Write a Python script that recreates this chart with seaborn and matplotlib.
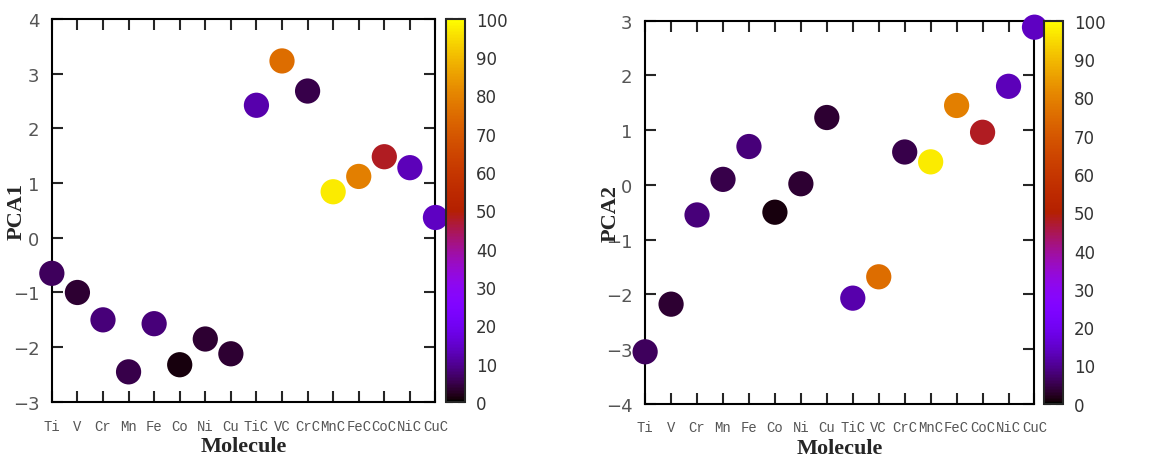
import numpy as np
import pandas as pd
import matplotlib
matplotlib.use('Agg')
import matplotlib.pyplot as plt
import seaborn as sns

# ---------------------- Data ----------------------
molecules = ['Ti', 'V', 'Cr', 'Mn', 'Fe', 'Co', 'Ni', 'Cu',
             'TiC', 'VC', 'CrC', 'MnC', 'FeC', 'CoC', 'NiC', 'CuC']
pca1 = [-0.65, -1.0, -1.5, -2.45, -1.57, -2.32, -1.85, -2.12,
        2.42, 3.23, 2.68, 0.84, 1.12, 1.48, 1.28, 0.37]
pca2 = [-3.05, -2.18, -0.55, 0.10, 0.70, -0.50, 0.02, 1.23,
        -2.07, -1.68, 0.60, 0.42, 1.45, 0.96, 1.80, 2.88]
color_val = [6, 3.5, 8, 5, 8, 1, 3.5, 3.5,
             12, 75, 5, 97, 79, 48, 13, 14]

df = pd.DataFrame({'Molecule': molecules, 'PCA1': pca1, 'PCA2': pca2,
                   'value': color_val})
df['pos'] = np.arange(len(molecules))

sns.set_style('white')
plt.rcParams['axes.linewidth'] = 1.5

fig = plt.figure(figsize=(11.52, 4.6), dpi=100)

# (column, y-range, axes rect, colorbar rect, ylabel x offset)
panels = [
    ('PCA1', (-3, 4), [0.045, 0.124, 0.333, 0.833], [0.387, 0.124, 0.0165, 0.833], -0.065),
    ('PCA2', (-4, 3), [0.560, 0.120, 0.338, 0.833], [0.906, 0.120, 0.0165, 0.833], -0.062),
]

norm = plt.Normalize(0, 100)
cmap = plt.get_cmap('gnuplot')

for col, ylim, ax_rect, cb_rect, ylab_x in panels:
    ax = fig.add_axes(ax_rect)
    sns.scatterplot(data=df, x='pos', y=col, hue='value', palette='gnuplot',
                    hue_norm=(0, 100), s=330, linewidth=0, legend=False,
                    ax=ax, clip_on=False, zorder=3)
    ax.set_xlim(0, len(molecules) - 1)
    ax.set_ylim(*ylim)
    ax.set_xticks(df['pos'])
    ax.set_xticklabels(molecules, family='Liberation Mono', fontsize=10,
                       color='#555555')
    ticks = list(range(ylim[0], ylim[1] + 1))
    ax.set_yticks(ticks)
    ax.set_yticklabels([str(v).replace('-', '\u2212') for v in ticks],
                       family='DejaVu Sans', fontsize=13, color='#555555')
    ax.tick_params(axis='x', direction='in', length=8, width=1.5,
                   top=True, bottom=True, pad=12)
    ax.tick_params(axis='y', direction='in', length=8, width=1.5,
                   left=True, right=True, pad=9)
    for sp in ax.spines.values():
        sp.set_color('black')
        sp.set_linewidth(1.5)
    ax.set_xlabel('Molecule', family='Liberation Serif', fontweight='bold',
                  fontsize=16)
    ax.set_ylabel(col, family='Liberation Serif', fontweight='bold',
                  fontsize=16)
    ax.xaxis.set_label_coords(0.5, -0.09)
    ax.yaxis.set_label_coords(ylab_x, 0.5)

    cax = fig.add_axes(cb_rect)
    sm = plt.cm.ScalarMappable(norm=norm, cmap=cmap)
    cb = fig.colorbar(sm, cax=cax, ticks=np.arange(0, 101, 10))
    cb.outline.set_linewidth(1.5)
    cax.tick_params(direction='in', length=5, width=1.5, left=True,
                    right=True, labelsize=12, labelcolor='#333333', pad=8)

fig.savefig('out.png', dpi=100)
